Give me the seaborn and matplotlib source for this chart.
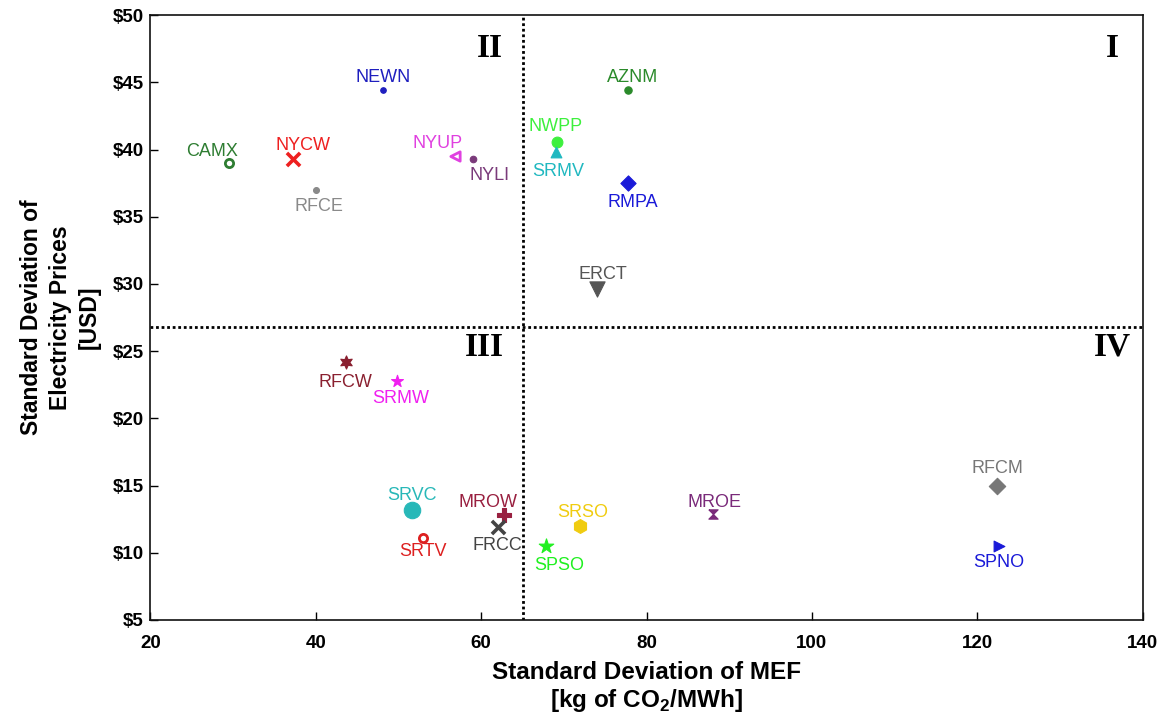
import matplotlib
matplotlib.use("Agg")
import matplotlib.pyplot as plt
import seaborn as sns
import pandas as pd
from matplotlib.ticker import FuncFormatter, MultipleLocator

regions = ["NEWN", "AZNM", "CAMX", "NYCW", "RFCE", "NYUP", "NYLI", "NWPP", "SRMV", "RMPA",
           "ERCT", "RFCW", "SRMW", "SRVC", "SRTV", "MROW", "FRCC", "SPSO", "SRSO", "MROE",
           "RFCM", "SPNO"]
sd_mef = [48.1, 77.8, 29.5, 37.3, 40.0, 56.8, 59.0, 69.2, 69.0, 77.8,
          74.0, 43.6, 49.8, 51.6, 53.0, 62.8, 62.0, 67.8, 72.0, 88.0,
          122.4, 122.6]
sd_price = [44.4, 44.4, 39.0, 39.3, 37.0, 39.5, 39.3, 40.6, 39.8, 37.5,
            29.6, 24.2, 22.8, 13.2, 11.1, 12.8, 11.9, 10.5, 12.0, 12.9,
            15.0, 10.5]
colors = ["#1f1fbf", "#2a8a2a", "#2e7d32", "#ee2020", "#8a8a8a", "#e040e0", "#7a3a7a", "#3df03d", "#20b8c0", "#1a1ad8",
          "#555555", "#8a2030", "#f020f0", "#28b8b8", "#dd2020", "#992040", "#444444", "#20f020", "#f0cc10", "#7a2a7a",
          "#777777", "#1a1ad8"]
hourglass = [(-1, 1), (1, 1), (-1, -1), (1, -1), (-1, 1)]
markers = ["o", "o", "o", "x", "o", "<", "o", "o", "^", "D",
           "v", (6, 1, 0), "*", "o", "o", "P", "x", "*", "h", hourglass,
           "D", ">"]
filled = [True, True, False, True, True, False, True, True, True, True,
          True, True, True, True, False, True, True, True, True, True,
          True, True]
msizes = [16, 28, 35, 90, 18, 45, 22, 60, 60, 60,
          120, 90, 80, 140, 35, 110, 90, 120, 100, 45,
          70, 60]
# label offset directions (points): style only
label_off = [(0, 9), (3, 9), (-12, 8), (7, 10), (2, -12), (-12, 9), (12, -12), (-1, 11), (2, -14), (3, -14),
             (4, 11), (0, -15), (3, -13), (0, 10), (0, -10), (-12, 9), (0, -13), (10, -14), (2, 10), (1, 8),
             (0, 12), (0, -12)]

df = pd.DataFrame({"region": regions, "mef": sd_mef, "price": sd_price})

sns.set_theme(style="white")
plt.rcParams["font.family"] = ["Liberation Sans", "DejaVu Sans"]
plt.rcParams["text.color"] = "black"
plt.rcParams["axes.labelcolor"] = "black"
plt.rcParams["mathtext.fontset"] = "custom"
plt.rcParams["mathtext.rm"] = "Liberation Sans"
plt.rcParams["mathtext.bf"] = "Liberation Sans:bold"

fig = plt.figure(figsize=(11.66, 7.23), dpi=100)
ax = fig.add_axes([0.129, 0.1425, 0.851, 0.8365])

for i, r in enumerate(regions):
    sub = df[df.region == r]
    m = markers[i]
    c = colors[i]
    if m in ("x", "+"):
        sns.scatterplot(data=sub, x="mef", y="price", marker=m, color=c, s=msizes[i],
                        linewidth=2.6, ax=ax, legend=False, zorder=3)
    elif not filled[i]:
        sns.scatterplot(data=sub, x="mef", y="price", marker=m, facecolor="white",
                        edgecolor=c, s=msizes[i], linewidth=2.0, ax=ax, legend=False, zorder=3)
    else:
        sns.scatterplot(data=sub, x="mef", y="price", marker=m, color=c, edgecolor=c,
                        s=msizes[i], linewidth=0.8, ax=ax, legend=False, zorder=3)
    ax.annotate(r, (sd_mef[i], sd_price[i]), xytext=label_off[i], textcoords="offset points",
                ha="center", va="center", fontsize=13, color=c, zorder=4)

ax.axvline(65.0, color="black", linestyle=(0, (1, 1)), linewidth=2.0, zorder=2)
ax.axhline(26.8, color="black", linestyle=(0, (1, 1)), linewidth=2.0, zorder=2)

qfont = dict(family=["Liberation Serif", "DejaVu Serif"], fontsize=24, fontweight="bold", color="black")
ax.text(136.3, 47.5, "I", ha="center", va="center", **qfont)
ax.text(61.1, 47.5, "II", ha="center", va="center", **qfont)
ax.text(60.4, 25.3, "III", ha="center", va="center", **qfont)
ax.text(136.3, 25.3, "IV", ha="center", va="center", **qfont)

ax.set_xlim(20, 140)
ax.set_ylim(5, 50)
ax.xaxis.set_major_locator(MultipleLocator(20))
ax.yaxis.set_major_locator(MultipleLocator(5))
ax.yaxis.set_major_formatter(FuncFormatter(lambda v, p: r"\$%d" % v))
ax.tick_params(direction="in", length=6, width=1, colors="black", labelsize=13.5,
               bottom=True, left=True, top=False, right=False)
ax.tick_params(axis="x", pad=11)
ax.tick_params(axis="y", pad=5)
for lab in ax.get_xticklabels() + ax.get_yticklabels():
    lab.set_fontweight("bold")
for s in ax.spines.values():
    s.set_color("#111111")
    s.set_linewidth(1.2)

ax.set_xlabel("Standard Deviation of MEF\n" + r"[kg of CO$_\mathbf{2}$/MWh]", labelpad=6,
              fontsize=17.5, fontweight="bold", linespacing=1.15)
ax.set_ylabel("Standard Deviation of\nElectricity Prices\n[USD]", labelpad=8,
              fontsize=16.5, fontweight="bold", linespacing=1.35)

fig.savefig("out.png", dpi=100, facecolor="white")
